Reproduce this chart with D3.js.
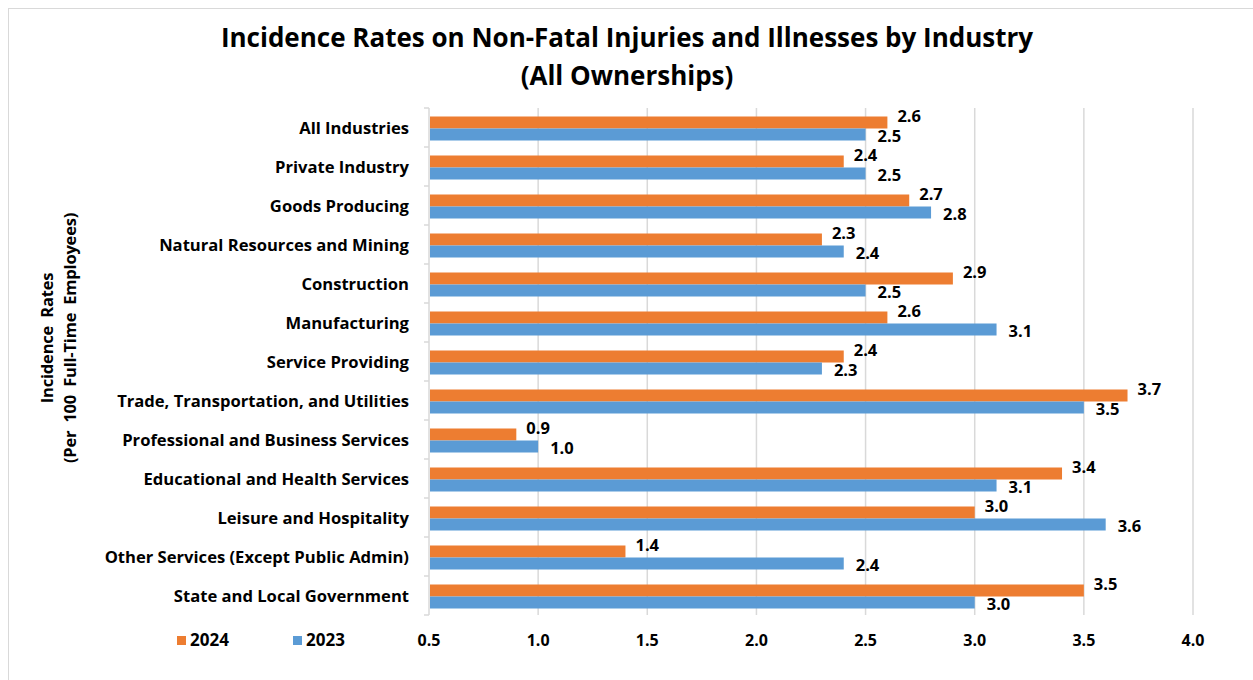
<!DOCTYPE html>
<html><head><meta charset="utf-8">
<script src="https://cdn.jsdelivr.net/npm/d3@7"></script>
<style>body{margin:0;background:#fff}svg{display:block}text{font-family:"Open Sans",Lato,sans-serif;font-weight:bold;fill:#000}</style>
</head><body>
<svg id="c" width="1253" height="680"></svg>
<script>
const categories = ["All Industries","Private Industry","Goods Producing","Natural Resources and Mining","Construction","Manufacturing","Service Providing","Trade, Transportation, and Utilities","Professional and Business Services","Educational and Health Services","Leisure and Hospitality","Other Services (Except Public Admin)","State and Local Government"];
const values2024 = [2.6,2.4,2.7,2.3,2.9,2.6,2.4,3.7,0.9,3.4,3.0,1.4,3.5];
const values2023 = [2.5,2.5,2.8,2.4,2.5,3.1,2.3,3.5,1.0,3.1,3.6,2.4,3.0];
const xTicks = [0.5,1.0,1.5,2.0,2.5,3.0,3.5,4.0];
const seriesNames = ["2024","2023"];
const colors = ["#ED7D31","#5B9BD5"];

const svg = d3.select("#c");
svg.append("rect").attr("x",8.5).attr("y",8.5).attr("width",1300).attr("height",700).attr("fill","none").attr("stroke","#d9d9d9");

const x = d3.scaleLinear().domain([0.5,4.0]).range([429,1193]);
const y = d3.scaleBand().domain(categories).range([108,615]);
const bh = 12;

svg.append("g").selectAll("line").data(xTicks.slice(1)).join("line")
  .attr("x1",d=>x(d)).attr("x2",d=>x(d)).attr("y1",108).attr("y2",615)
  .attr("stroke","#d9d9d9").attr("stroke-width",1.5);

const ya = svg.append("g").attr("transform","translate(429,0)");
ya.append("line").attr("x1",0).attr("x2",0).attr("y1",108).attr("y2",615).attr("stroke","#d9d9d9").attr("stroke-width",1.5);
ya.selectAll("line.t").data(d3.range(categories.length+1)).join("line").attr("class","t")
  .attr("x1",-5).attr("x2",0).attr("y1",i=>108+i*y.step()).attr("y2",i=>108+i*y.step())
  .attr("stroke","#d9d9d9").attr("stroke-width",1.5);
ya.selectAll("text").data(categories).join("text")
  .attr("x",-20).attr("y",d=>y(d)+y.bandwidth()/2+1).attr("dy","0.35em")
  .attr("text-anchor","end").attr("font-size",16.6).text(d=>d);

const bars = svg.append("g");
categories.forEach((c,i)=>{
  const mid = y(c)+y.bandwidth()/2 + 1;
  bars.append("rect").attr("x",x(0.5)+1).attr("y",mid-bh).attr("width",x(values2024[i])-x(0.5)-1).attr("height",bh).attr("fill",colors[0]);
  bars.append("rect").attr("x",x(0.5)+1).attr("y",mid).attr("width",x(values2023[i])-x(0.5)-1).attr("height",bh).attr("fill",colors[1]);
  bars.append("text").attr("x",x(values2024[i])+10).attr("y",mid-12).attr("dy","0.35em").attr("font-size",16.5).text(values2024[i].toFixed(1));
  bars.append("text").attr("x",x(values2023[i])+12).attr("y",mid+8).attr("dy","0.35em").attr("font-size",16.5).text(values2023[i].toFixed(1));
});

svg.append("g").selectAll("text").data(xTicks).join("text")
  .attr("x",d=>x(d)).attr("y",640).attr("dy","0.35em").attr("text-anchor","middle").attr("font-size",16).text(d=>d.toFixed(1));

const lg = svg.append("g");
[[177,0],[293,1]].forEach(([lx,i])=>{
  lg.append("rect").attr("x",lx).attr("y",636).attr("width",9).attr("height",9).attr("fill",colors[i]);
  lg.append("text").attr("x",lx+13).attr("y",640).attr("dy","0.35em").attr("font-size",17).text(seriesNames[i]);
});

svg.append("text").attr("x",627).attr("y",38).attr("dy","0.35em").attr("text-anchor","middle").attr("font-size",26).text("Incidence Rates on Non-Fatal Injuries and Illnesses by Industry");
svg.append("text").attr("x",627).attr("y",76).attr("dy","0.35em").attr("text-anchor","middle").attr("font-size",26).text("(All Ownerships)");

const yt = svg.append("g").attr("transform","translate(58,338) rotate(-90)");
yt.append("text").attr("x",0).attr("y",-11).attr("dy","0.35em").attr("text-anchor","middle").attr("font-size",16.5).attr("letter-spacing","-0.2").attr("word-spacing","4").text("Incidence Rates");
yt.append("text").attr("x",0).attr("y",12).attr("dy","0.35em").attr("text-anchor","middle").attr("font-size",16.5).attr("letter-spacing","-0.2").attr("word-spacing","4").text("(Per 100 Full-Time Employees)");
</script>
</body></html>
